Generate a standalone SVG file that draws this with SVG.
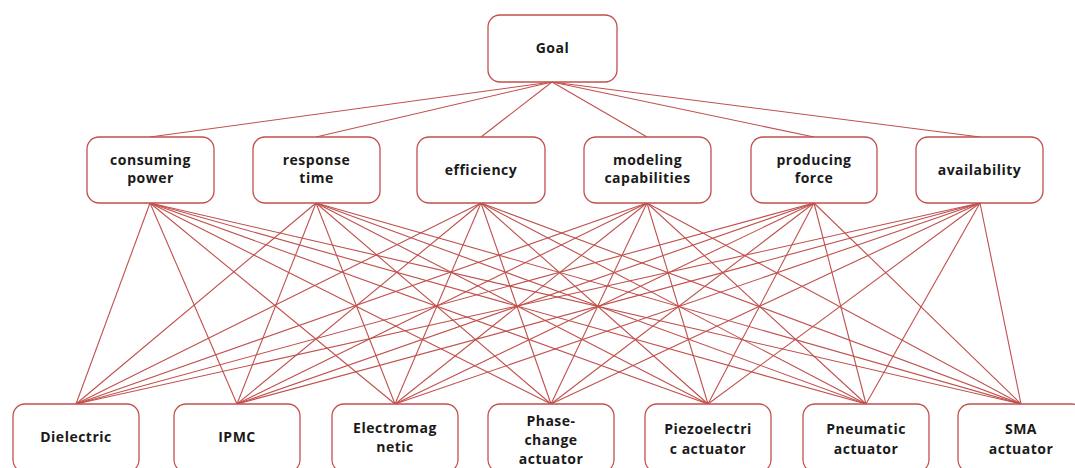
<svg xmlns="http://www.w3.org/2000/svg" width="1075" height="468" viewBox="0 0 1075 468">
<style>
.box{fill:#ffffff;stroke:#c0504d;stroke-width:1.3}
.t{font-family:"Open Sans","Liberation Sans",sans-serif;font-weight:700;font-size:14px;fill:#1a1a1a;text-anchor:middle;letter-spacing:0.5px}
.c line{stroke:#c0504d;stroke-width:1.1}
</style>
<rect width="1075" height="468" fill="#ffffff"/>
<g class="c" id="connectors">
<line x1="552" y1="82" x2="150" y2="137"/>
<line x1="552" y1="82" x2="316" y2="137"/>
<line x1="552" y1="82" x2="481" y2="137"/>
<line x1="552" y1="82" x2="647" y2="137"/>
<line x1="552" y1="82" x2="814" y2="137"/>
<line x1="552" y1="82" x2="980" y2="137"/>
<line x1="150" y1="203" x2="76" y2="404"/><line x1="150" y1="203" x2="237" y2="404"/><line x1="150" y1="203" x2="395" y2="404"/><line x1="150" y1="203" x2="551" y2="404"/><line x1="150" y1="203" x2="708" y2="404"/><line x1="150" y1="203" x2="866" y2="404"/><line x1="150" y1="203" x2="1021" y2="404"/>
<line x1="316" y1="203" x2="76" y2="404"/><line x1="316" y1="203" x2="237" y2="404"/><line x1="316" y1="203" x2="395" y2="404"/><line x1="316" y1="203" x2="551" y2="404"/><line x1="316" y1="203" x2="708" y2="404"/><line x1="316" y1="203" x2="866" y2="404"/><line x1="316" y1="203" x2="1021" y2="404"/>
<line x1="481" y1="203" x2="76" y2="404"/><line x1="481" y1="203" x2="237" y2="404"/><line x1="481" y1="203" x2="395" y2="404"/><line x1="481" y1="203" x2="551" y2="404"/><line x1="481" y1="203" x2="708" y2="404"/><line x1="481" y1="203" x2="866" y2="404"/><line x1="481" y1="203" x2="1021" y2="404"/>
<line x1="647" y1="203" x2="76" y2="404"/><line x1="647" y1="203" x2="237" y2="404"/><line x1="647" y1="203" x2="395" y2="404"/><line x1="647" y1="203" x2="551" y2="404"/><line x1="647" y1="203" x2="708" y2="404"/><line x1="647" y1="203" x2="866" y2="404"/><line x1="647" y1="203" x2="1021" y2="404"/>
<line x1="814" y1="203" x2="76" y2="404"/><line x1="814" y1="203" x2="237" y2="404"/><line x1="814" y1="203" x2="395" y2="404"/><line x1="814" y1="203" x2="551" y2="404"/><line x1="814" y1="203" x2="708" y2="404"/><line x1="814" y1="203" x2="866" y2="404"/><line x1="814" y1="203" x2="1021" y2="404"/>
<line x1="980" y1="203" x2="76" y2="404"/><line x1="980" y1="203" x2="237" y2="404"/><line x1="980" y1="203" x2="395" y2="404"/><line x1="980" y1="203" x2="551" y2="404"/><line x1="980" y1="203" x2="708" y2="404"/><line x1="980" y1="203" x2="866" y2="404"/><line x1="980" y1="203" x2="1021" y2="404"/>
</g>
<g id="goal"><rect class="box" x="488" y="15" width="129" height="67" rx="12"/><text class="t" x="552.5" y="53">Goal</text></g>
<g id="consuming-power"><rect class="box" x="87" y="137" width="127" height="66" rx="12"/><text class="t" x="150.5" y="165">consuming</text><text class="t" x="150.5" y="183">power</text></g>
<g id="response-time"><rect class="box" x="253" y="137" width="127" height="66" rx="12"/><text class="t" x="316.5" y="165">response</text><text class="t" x="316.5" y="183">time</text></g>
<g id="efficiency"><rect class="box" x="417" y="137" width="128" height="66" rx="12"/><text class="t" x="481" y="175">efficiency</text></g>
<g id="modeling-capabilities"><rect class="box" x="584" y="137" width="127" height="66" rx="12"/><text class="t" x="647.5" y="165">modeling</text><text class="t" x="647.5" y="183">capabilities</text></g>
<g id="producing-force"><rect class="box" x="751" y="137" width="126" height="66" rx="12"/><text class="t" x="814" y="165">producing</text><text class="t" x="814" y="183">force</text></g>
<g id="availability"><rect class="box" x="916" y="137" width="127" height="66" rx="12"/><text class="t" x="979.5" y="175">availability</text></g>
<g id="dielectric"><rect class="box" x="13" y="404" width="126" height="68" rx="12"/><text class="t" x="76" y="442">Dielectric</text></g>
<g id="ipmc"><rect class="box" x="174" y="404" width="126" height="68" rx="12"/><text class="t" x="237" y="442">IPMC</text></g>
<g id="electromagnetic"><rect class="box" x="332" y="404" width="126" height="68" rx="12"/><text class="t" x="395" y="433">Electromag</text><text class="t" x="395" y="452">netic</text></g>
<g id="phase-change"><rect class="box" x="488" y="404" width="126" height="68" rx="12"/><text class="t" x="551" y="426">Phase-</text><text class="t" x="551" y="445">change</text><text class="t" x="551" y="464">actuator</text></g>
<g id="piezoelectric"><rect class="box" x="645" y="404" width="126" height="68" rx="12"/><text class="t" x="708" y="434">Piezoelectri</text><text class="t" x="708" y="454">c actuator</text></g>
<g id="pneumatic"><rect class="box" x="803" y="404" width="126" height="68" rx="12"/><text class="t" x="866" y="434">Pneumatic</text><text class="t" x="866" y="454">actuator</text></g>
<g id="sma"><rect class="box" x="958" y="404" width="126" height="68" rx="12"/><text class="t" x="1021" y="434">SMA</text><text class="t" x="1021" y="454">actuator</text></g>
</svg>
